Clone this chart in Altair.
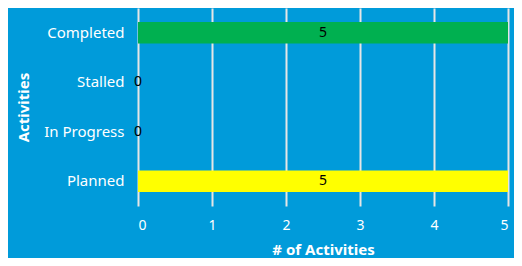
import altair as alt
import pandas as pd

categories = ["Completed", "Stalled", "In Progress", "Planned"]
values = [5, 0, 0, 5]
colors = ["#00B050", "#00B050", "#00B050", "#FFFF00"]

df = pd.DataFrame({"status": categories, "count": values, "color": colors})
df["half"] = df["count"] / 2

FONT = "Noto Sans"

y_enc = alt.Y("status:N", sort=categories,
              scale=alt.Scale(paddingInner=0.57, paddingOuter=0.285),
              axis=alt.Axis(title="Activities", labelFontSize=15, labelColor="white",
                            titleColor="white", titleFontSize=15, titleFontWeight="bold",
                            labelPadding=14, titlePadding=12, domain=False, ticks=False,
                            grid=False, labelFont=FONT, titleFont=FONT))

bars = alt.Chart(df).mark_bar().encode(
    x=alt.X("count:Q", scale=alt.Scale(domain=[0, 5]),
            axis=alt.Axis(title="# of Activities", values=[0, 1, 2, 3, 4, 5], format="d",
                          labelFontSize=14, labelColor="white", titleColor="white",
                          titleFontSize=15, titleFontWeight="bold", labelPadding=12,
                          titlePadding=10, domain=False, ticks=False, grid=True,
                          gridColor="#E6E6E6", gridWidth=2, labelFont=FONT, titleFont=FONT)),
    y=y_enc,
    color=alt.Color("color:N", scale=None),
)

texts = alt.Chart(df).mark_text(fontSize=14, color="black", font=FONT, align="center",
                                baseline="middle").encode(
    x=alt.X("half:Q"),
    y=alt.Y("status:N", sort=categories),
    text=alt.Text("count:Q"),
)

chart = (bars + texts).properties(
    width=370, height=198,
    background="#009BDA",
    autosize=alt.AutoSizeParams(type="none"),
    padding={"left": 130, "top": 0, "right": 6, "bottom": 52},
).configure_view(stroke=None, fill="#009BDA")

chart.save("out.html", embed_options={"renderer": "svg", "actions": False})
